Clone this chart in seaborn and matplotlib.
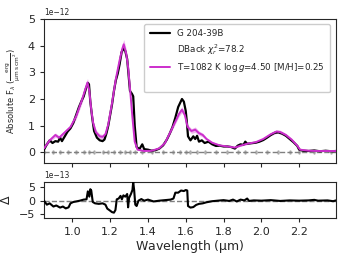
import numpy as np
import pandas as pd
import matplotlib
matplotlib.use("Agg")
import matplotlib.pyplot as plt
import seaborn as sns
from matplotlib.lines import Line2D

# ---- data (flux in units of 1e-12 erg/s/cm2/um) ----
data_wl = [0.850, 0.865, 0.880, 0.895, 0.910, 0.925, 0.935, 0.945, 0.960, 0.975, 0.990,
           1.005, 1.020, 1.035, 1.050, 1.060, 1.072, 1.083, 1.088, 1.095, 1.105, 1.115,
           1.130, 1.145, 1.160, 1.170, 1.180, 1.190, 1.200, 1.210, 1.220, 1.230, 1.240,
           1.250, 1.260, 1.270, 1.280, 1.290, 1.300, 1.305, 1.315, 1.322, 1.330, 1.340,
           1.355, 1.370, 1.380, 1.400, 1.420, 1.440, 1.460, 1.480, 1.500, 1.515, 1.530,
           1.545, 1.560, 1.570, 1.580, 1.590, 1.600, 1.605, 1.612, 1.625, 1.640, 1.650,
           1.660, 1.670, 1.685, 1.700, 1.720, 1.740, 1.760, 1.780, 1.800, 1.820, 1.840,
           1.860, 1.875, 1.890, 1.905, 1.915, 1.925, 1.945, 1.970, 1.990, 2.010, 2.030,
           2.050, 2.070, 2.090, 2.110, 2.130, 2.150, 2.170, 2.190, 2.200, 2.220, 2.250,
           2.280, 2.310, 2.340, 2.370, 2.395]
data_flux = [0.10, 0.30, 0.45, 0.35, 0.42, 0.40, 0.55, 0.42, 0.60, 0.78, 0.90,
             1.10, 1.40, 1.70, 1.95, 2.10, 2.40, 2.60, 2.55, 1.90, 1.30, 0.80,
             0.55, 0.45, 0.42, 0.48, 0.70, 1.00, 1.40, 1.80, 2.30, 2.70, 2.95,
             3.30, 3.75, 3.90, 3.80, 3.50, 2.70, 2.30, 2.20, 2.10, 1.00, 0.20,
             0.12, 0.30, 0.12, 0.10, 0.06, 0.08, 0.14, 0.26, 0.48, 0.70, 0.95,
             1.30, 1.70, 1.85, 2.00, 1.90, 1.55, 1.20, 0.60, 0.45, 0.60, 0.50,
             0.62, 0.40, 0.45, 0.35, 0.40, 0.30, 0.24, 0.25, 0.22, 0.22, 0.20,
             0.14, 0.25, 0.30, 0.28, 0.40, 0.32, 0.34, 0.36, 0.40, 0.46, 0.55,
             0.65, 0.73, 0.75, 0.70, 0.62, 0.50, 0.38, 0.24, 0.10, 0.06, 0.05,
             0.07, 0.04, 0.06, 0.04, 0.05]

# ---- best-fit model ----
model_wl = [0.850, 0.880, 0.910, 0.930, 0.960, 0.990, 1.020, 1.050, 1.070, 1.080, 1.090,
            1.100, 1.110, 1.125, 1.145, 1.160, 1.175, 1.190, 1.210, 1.230, 1.250, 1.265,
            1.272, 1.285, 1.295, 1.305, 1.318, 1.330, 1.345, 1.380, 1.420, 1.460, 1.490,
            1.520, 1.545, 1.565, 1.580, 1.595, 1.610, 1.630, 1.650, 1.670, 1.690, 1.710,
            1.740, 1.780, 1.820, 1.860, 1.890, 1.930, 1.970, 2.010, 2.050, 2.080, 2.100,
            2.130, 2.160, 2.190, 2.205, 2.250, 2.300, 2.395]
model_flux = [0.15, 0.45, 0.65, 0.55, 0.75, 0.95, 1.35, 1.95, 2.40, 2.62, 2.30,
              1.60, 1.10, 0.75, 0.60, 0.58, 0.68, 1.05, 1.85, 2.75, 3.45, 3.90,
              4.05, 3.70, 3.20, 2.40, 1.30, 0.40, 0.10, 0.05, 0.06, 0.15, 0.35,
              0.78, 1.15, 1.45, 1.60, 1.40, 0.95, 0.80, 0.85, 0.72, 0.65, 0.50,
              0.36, 0.26, 0.22, 0.18, 0.25, 0.33, 0.38, 0.50, 0.68, 0.78, 0.76,
              0.65, 0.48, 0.25, 0.10, 0.06, 0.05, 0.05]
model_err = [0.03, 0.06, 0.08, 0.07, 0.08, 0.08, 0.10, 0.12, 0.14, 0.15, 0.14,
             0.12, 0.10, 0.09, 0.09, 0.09, 0.09, 0.09, 0.11, 0.14, 0.16, 0.18,
             0.18, 0.17, 0.15, 0.12, 0.08, 0.04, 0.02, 0.01, 0.01, 0.02, 0.04,
             0.06, 0.08, 0.10, 0.11, 0.10, 0.09, 0.09, 0.10, 0.08, 0.07, 0.05,
             0.04, 0.03, 0.02, 0.02, 0.02, 0.03, 0.03, 0.04, 0.06, 0.07, 0.07,
             0.06, 0.04, 0.03, 0.01, 0.01, 0.01, 0.01]

# ---- residuals (units 1e-13) ----
resid_wl = [0.850, 0.865, 0.880, 0.900, 0.915, 0.935, 0.950, 0.965, 0.980, 0.990, 1.005,
            1.020, 1.040, 1.060, 1.075, 1.082, 1.090, 1.095, 1.100, 1.108, 1.120, 1.140,
            1.160, 1.175, 1.185, 1.195, 1.210, 1.220, 1.228, 1.235, 1.245, 1.255, 1.262,
            1.270, 1.280, 1.290, 1.295, 1.300, 1.310, 1.318, 1.322, 1.327, 1.333, 1.340,
            1.350, 1.365, 1.380, 1.400, 1.430, 1.460, 1.490, 1.520, 1.535, 1.545, 1.560,
            1.575, 1.590, 1.600, 1.608, 1.612, 1.625, 1.640, 1.655, 1.670, 1.690, 1.710,
            1.740, 1.770, 1.800, 1.830, 1.850, 1.870, 1.890, 1.910, 1.925, 1.935, 1.960,
            2.000, 2.050, 2.100, 2.150, 2.200, 2.250, 2.280, 2.300, 2.350, 2.380, 2.395]
resid = [0.0, -1.5, -1.0, -2.2, -1.8, -2.6, -2.2, -2.9, -2.5, -1.0, -0.5,
         -0.3, 0.0, 0.4, 0.5, 3.5, 1.5, 4.3, 3.8, -0.5, -1.0, -1.2,
         -1.0, -1.5, -3.0, -3.5, -4.3, -4.5, -3.5, 0.5, 0.8, 1.8, 0.5,
         2.0, 1.5, 2.5, -2.5, 1.0, 2.5, 4.0, 7.0, 4.0, -1.5, -2.0,
         0.0, 0.6, 0.0, 0.4, -0.3, 0.0, 0.2, 0.4, 0.8, 3.0, 3.0,
         3.8, 3.6, 4.0, 3.8, -2.0, -2.6, -2.4, -1.6, -1.2, -1.0, -0.6,
         -0.2, 0.0, 0.2, -0.1, 0.4, -0.3, 0.4, 0.1, 0.8, -0.1, 0.1,
         0.0, 0.2, -0.1, 0.1, 0.0, 0.1, 0.3, 0.0, 0.1, -0.2, 0.1]

data_label = "G 204-39B"
chi_label = r"DBack $\chi^2_r$=78.2"
model_label = r"T=1082 K log$\,g$=4.50 [M/H]=0.25"
xticks = [1.0, 1.2, 1.4, 1.6, 1.8, 2.0, 2.2]

sns.set_style("ticks")
plt.rcParams["font.family"] = ["DejaVu Sans"]

df_data = pd.DataFrame({"wl": data_wl, "flux": np.array(data_flux) * 1e-12})
df_model = pd.DataFrame({"wl": model_wl, "flux": np.array(model_flux) * 1e-12,
                         "err": np.array(model_err) * 1e-12})
df_res = pd.DataFrame({"wl": resid_wl, "res": np.array(resid) * 1e-13})

fig = plt.figure(figsize=(3.45, 2.59), dpi=100)
ax = fig.add_axes([44/345, (259-163)/259, 292/345, 144/259])
axr = fig.add_axes([44/345, (259-218)/259, 292/345, 36/259])

mcol = "#CC2ECC"
ax.fill_between(df_model["wl"], df_model["flux"] - df_model["err"],
                df_model["flux"] + df_model["err"], color="#EBA8EB", alpha=0.85, lw=0)
ax.axhline(0, color="gray", ls="--", lw=1.0, zorder=1)
ax.plot(df_data["wl"][::3], np.zeros(len(df_data))[::3], ls="none", marker="d", ms=2.0,
        color="gray", alpha=0.45, zorder=1)
sns.lineplot(data=df_data, x="wl", y="flux", ax=ax, color="black", lw=1.6,
             sort=False, zorder=3)
sns.lineplot(data=df_model, x="wl", y="flux", ax=ax, color=mcol, lw=1.4,
             sort=False, zorder=4)

ax.set_xlim(0.85, 2.395)
ax.set_ylim(-0.4e-12, 5e-12)
ax.set_xticks(xticks)
ax.set_xticklabels([])
ax.set_xlabel("")
ax.set_yticks([0, 1e-12, 2e-12, 3e-12, 4e-12, 5e-12])
ax.tick_params(labelsize=8, length=3, width=0.8)
ax.yaxis.get_offset_text().set_fontsize(5.5)
ax.set_ylabel(r"Absolute F$_\lambda$ ($\frac{\rm erg}{\rm \mu m\, s\, cm^2}$)", fontsize=6)

handles = [Line2D([], [], color="black", lw=1.6),
           Line2D([], [], color="none"),
           Line2D([], [], color=mcol, lw=1.4),
           Line2D([], [], color="none")]
labels = [data_label, chi_label, model_label, " "]
ax.legend(handles, labels, loc="upper right", fontsize=6.3, frameon=True,
          fancybox=True, framealpha=1, edgecolor="#cccccc", borderpad=0.6,
          handlelength=2.3, handletextpad=0.8, labelspacing=0.45,
          bbox_to_anchor=(0.993, 0.995))

axr.axhline(0, color="gray", ls="--", lw=1.0, zorder=1)
sns.lineplot(data=df_res, x="wl", y="res", ax=axr, color="black", lw=1.5,
             sort=False, zorder=3)
axr.set_xlim(0.85, 2.395)
axr.set_ylim(-6.5e-13, 7e-13)
axr.set_xticks(xticks)
axr.set_yticks([-5e-13, 0, 5e-13])
axr.tick_params(labelsize=8, length=3, width=0.8)
axr.yaxis.get_offset_text().set_fontsize(5.5)
axr.set_ylabel(r"$\Delta$", fontsize=9)
axr.set_xlabel(r"Wavelength ($\rm \mu$m)", fontsize=9, labelpad=1)

for a in (ax, axr):
    for s in a.spines.values():
        s.set_linewidth(0.8)

fig.savefig("out.png", dpi=100)
